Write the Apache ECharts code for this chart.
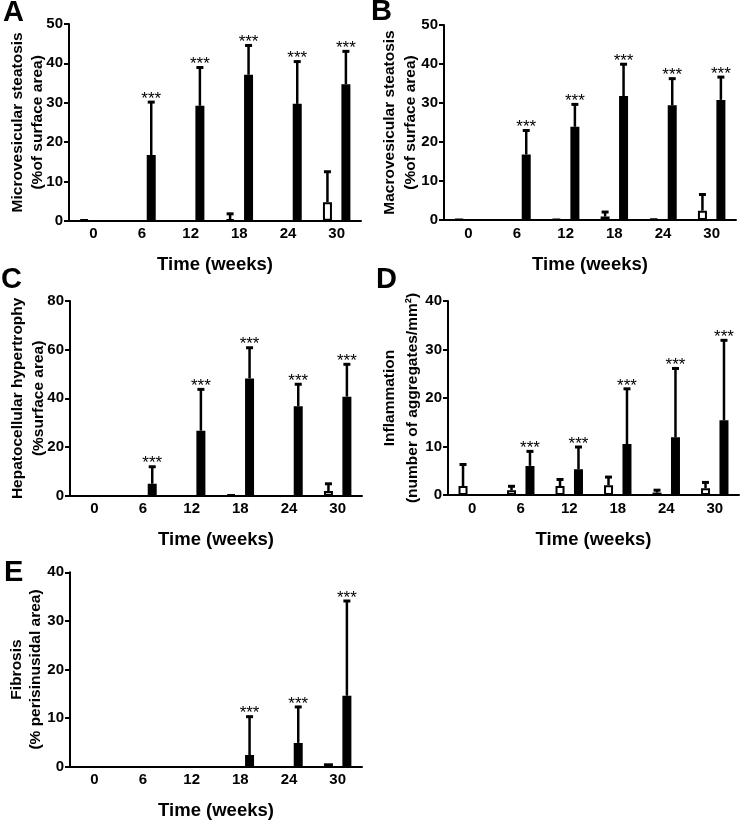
<!DOCTYPE html>
<html><head><meta charset="utf-8">
<script src="https://cdn.jsdelivr.net/npm/echarts@6/dist/echarts.min.js"></script>
<style>html,body{margin:0;padding:0;background:#fff}#c{width:743px;height:823px}</style>
</head><body><div id="c"></div>
<script>
// ---------- data ----------
const categories = ['0', '6', '12', '18', '24', '30'];
const xTitle = 'Time (weeks)';

// A: Microvesicular steatosis
const aControl    = [0.3, 0, 0, 0.4, 0, 4.7];
const aControlErr = [null, null, null, 2.0, null, 12.7];
const aHfd        = [0, 16.7, 29.2, 37.1, 29.7, 34.7];
const aHfdErr     = [null, 30.4, 39.2, 44.8, 40.7, 43.3];
const aStars      = ['', '***', '***', '***', '***', '***'];

// B: Macrovesicular steatosis
const bControl    = [0.2, 0, 0.3, 0.9, 0.4, 2.4];
const bControlErr = [null, null, null, 2.3, null, 6.8];
const bHfd        = [0, 16.8, 23.9, 31.8, 29.4, 30.8];
const bHfdErr     = [null, 23.2, 29.9, 40.2, 36.5, 36.9];
const bStars      = ['', '***', '***', '***', '***', '***'];

// C: Hepatocellular hypertrophy
const cControl    = [0, 0, 0, 0.5, 0, 1.9];
const cControlErr = [null, null, null, null, null, 5.3];
const cHfd        = [0, 4.9, 26.7, 48.2, 36.8, 40.7];
const cHfdErr     = [null, 12.3, 44.1, 61.2, 46.2, 54.4];
const cStars      = ['', '***', '***', '***', '***', '***'];

// D: Inflammation
const dControl    = [1.85, 0.96, 1.85, 2.0, 0.5, 1.4];
const dControlErr = [6.5, 2.0, 3.4, 3.9, 1.2, 2.8];
const dHfd        = [0, 6.0, 5.3, 10.5, 11.9, 15.4];
const dHfdErr     = [null, 9.2, 10.1, 22.1, 26.3, 32.1];
const dStars      = ['', '***', '***', '***', '***', '***'];

// E: Fibrosis
const eControl    = [0, 0, 0, 0, 0, 0.7];
const eControlErr = [null, null, null, null, null, null];
const eHfd        = [0, 0, 0, 2.4, 4.9, 14.6];
const eHfdErr     = [null, null, null, 10.5, 12.5, 34.3];
const eStars      = ['', '', '', '***', '***', '***'];

// ---------- layout / style ----------
const FONT = '"Liberation Sans", Arial, sans-serif';
const BAR_W = 9, BAR_GAP = 1.05;
const OFF = BAR_W * (1 + BAR_GAP) / 2;

const panels = [
  {letter: 'A', lx: 3, ly: -2, yName: 'Microvesicular steatosis\n(%of surface area)', yMax: 50, yStep: 10,
   control: aControl, controlErr: aControlErr, hfd: aHfd, hfdErr: aHfdErr, stars: aStars,
   grid: {left: 69, top: 24, width: 292, height: 196.7}, nameGap: 21, lh: 20},
  {letter: 'B', lx: 371, ly: -3, yName: 'Macrovesicular steatosis\n(%of surface area)', yMax: 50, yStep: 10,
   control: bControl, controlErr: bControlErr, hfd: bHfd, hfdErr: bHfdErr, stars: bStars,
   grid: {left: 444, top: 25, width: 292, height: 195}, nameGap: 23, lh: 21},
  {letter: 'C', lx: 1, ly: 265, yName: 'Hepatocellular hypertrophy\n(%surface area)', yMax: 80, yStep: 20,
   control: cControl, controlErr: cControlErr, hfd: cHfd, hfdErr: cHfdErr, stars: cStars,
   grid: {left: 70, top: 301, width: 292, height: 194.7}, nameGap: 21, lh: 21},
  {letter: 'D', lx: 376, ly: 265, yName: 'Inflammation\n(number of aggregates/mm²)', yMax: 40, yStep: 10,
   control: dControl, controlErr: dControlErr, hfd: dHfd, hfdErr: dHfdErr, stars: dStars,
   grid: {left: 448, top: 301, width: 291, height: 194}, nameGap: 24, lh: 23},
  {letter: 'E', lx: 4, ly: 558, yName: 'Fibrosis\n(% perisinusidal area)', yMax: 40, yStep: 10,
   control: eControl, controlErr: eControlErr, hfd: eHfd, hfdErr: eHfdErr, stars: eStars,
   grid: {left: 70, top: 572.3, width: 292, height: 194.4}, nameGap: 25, lh: 19}
];

const axisLineStyle = {color: '#000', width: 2};
const grid = [], xAxis = [], yAxis = [], series = [], graphic = [];

function errRender(params, api) {
  const idx = api.value(0), mean = api.value(1), top = api.value(2), side = api.value(3);
  const dx = side === 0 ? -OFF : OFF;
  const p0 = api.coord([idx, mean]);
  const p1 = api.coord([idx, top]);
  const x = p0[0] + dx;
  return {
    type: 'group',
    children: [
      {type: 'line', shape: {x1: x, y1: p0[1], x2: x, y2: p1[1] + 1}, style: {stroke: '#000', lineWidth: 2.5}},
      {type: 'line', shape: {x1: x - 3.5, y1: p1[1] + 1, x2: x + 3.5, y2: p1[1] + 1}, style: {stroke: '#000', lineWidth: 3}}
    ]
  };
}
function starRender(params, api) {
  const idx = api.value(0), top = api.value(1);
  const p = api.coord([idx, top]);
  return {
    type: 'text', x: p[0] + OFF, y: p[1] - 2,
    style: {text: '***', align: 'center', verticalAlign: 'middle', fontFamily: FONT, fontSize: 17, fill: '#000'}
  };
}
const nz = arr => arr.map(v => (v === 0 ? null : v));

panels.forEach((p, i) => {
  grid.push(Object.assign({containLabel: false}, p.grid));
  xAxis.push({
    type: 'category', gridIndex: i, data: categories,
    axisLine: {lineStyle: axisLineStyle},
    axisTick: {alignWithLabel: true, length: 5, lineStyle: axisLineStyle},
    axisLabel: {color: '#000', fontFamily: FONT, fontWeight: 'bold', fontSize: 15, margin: 6},
    name: xTitle, nameLocation: 'middle', nameGap: 35, nameMoveOverlap: false,
    nameTextStyle: {color: '#000', fontFamily: FONT, fontWeight: 'bold', fontSize: 18.5}
  });
  yAxis.push({
    type: 'value', gridIndex: i, min: 0, max: p.yMax, interval: p.yStep,
    splitLine: {show: false},
    axisLine: {show: true, lineStyle: axisLineStyle},
    axisTick: {show: true, length: 5, lineStyle: axisLineStyle},
    axisLabel: {color: '#000', fontFamily: FONT, fontWeight: 'bold', fontSize: 15, margin: 6},
    name: p.yName, nameLocation: 'middle', nameRotate: 90, nameGap: p.nameGap, nameMoveOverlap: false,
    nameTextStyle: {color: '#000', fontFamily: FONT, fontWeight: 'bold', fontSize: 15.5, lineHeight: p.lh, align: 'center'}
  });
  series.push({
    type: 'bar', xAxisIndex: i, yAxisIndex: i, data: nz(p.control), barWidth: BAR_W, barGap: (BAR_GAP * 100) + '%',
    itemStyle: {color: '#fff', borderColor: '#000', borderWidth: 2}, animation: false, silent: true
  });
  series.push({
    type: 'bar', xAxisIndex: i, yAxisIndex: i, data: nz(p.hfd), barWidth: BAR_W, barGap: (BAR_GAP * 100) + '%',
    itemStyle: {color: '#000', borderColor: '#000', borderWidth: 2}, animation: false, silent: true
  });
  const errData = [];
  p.control.forEach((v, k) => { if (p.controlErr[k] != null) errData.push([k, v, p.controlErr[k], 0]); });
  p.hfd.forEach((v, k) => { if (p.hfdErr[k] != null) errData.push([k, v, p.hfdErr[k], 1]); });
  series.push({
    type: 'custom', xAxisIndex: i, yAxisIndex: i, data: errData, renderItem: errRender,
    encode: {x: 0, y: [1, 2]}, z: 5, animation: false, silent: true
  });
  const starData = [];
  p.stars.forEach((s, k) => { if (s) starData.push([k, p.hfdErr[k] != null ? p.hfdErr[k] : p.hfd[k]]); });
  series.push({
    type: 'custom', xAxisIndex: i, yAxisIndex: i, data: starData, renderItem: starRender,
    encode: {x: 0, y: 1}, z: 6, animation: false, silent: true
  });
  graphic.push({
    type: 'text', x: p.lx, y: p.ly,
    style: {text: p.letter, fontFamily: FONT, fontWeight: 'bold', fontSize: 29, fill: '#000'}
  });
});

const chart = echarts.init(document.getElementById('c'), null, {renderer: 'canvas'});
chart.setOption({
  backgroundColor: '#fff', animation: false,
  grid, xAxis, yAxis, series, graphic
});
</script>
</body></html>
